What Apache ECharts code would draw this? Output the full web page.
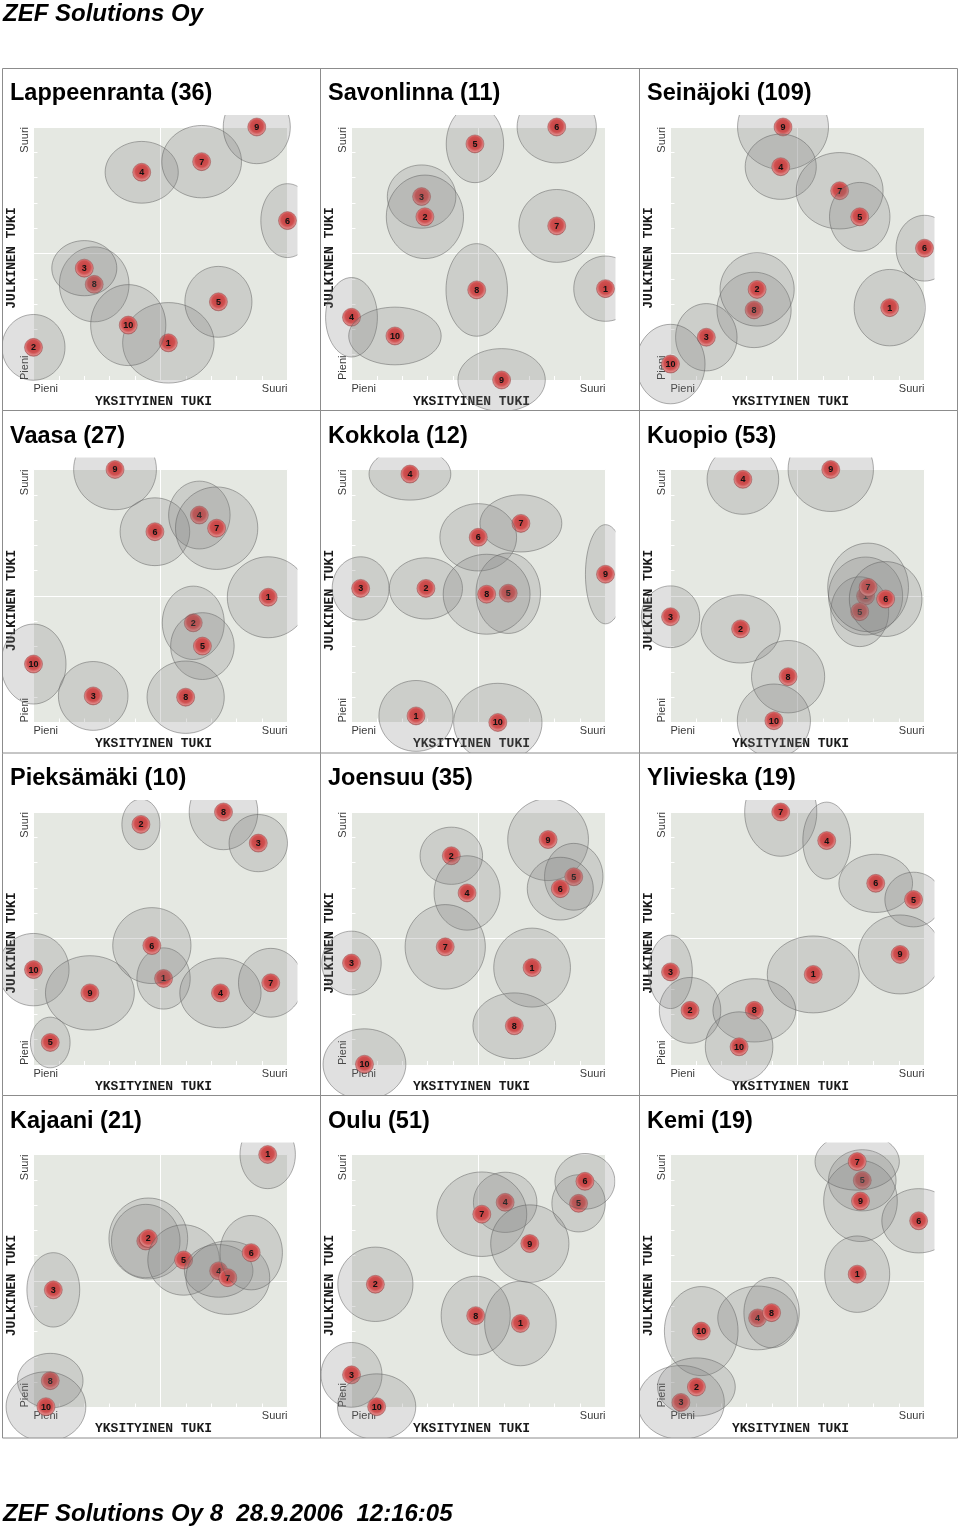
<!DOCTYPE html>
<html><head><meta charset="utf-8">
<script src="https://cdn.jsdelivr.net/npm/echarts@6/dist/echarts.min.js"></script>
<style>html,body{margin:0;padding:0;background:#fff}#c{width:960px;height:1528px}</style>
</head><body><div id="c"></div>
<script>
// ---------------- texts ----------------
const headerText = 'ZEF Solutions Oy';
const footerText = 'ZEF Solutions Oy 8  28.9.2006  12:16:05';
const xAxisTitle = 'YKSITYINEN TUKI';
const yAxisTitle = 'JULKINEN TUKI';
const tickLabels = ['Pieni', 'Suuri'];   // min / max label of both axes
const axisMin = 0, axisMax = 10, axisMid = 5;

const cityTitles = ['Lappeenranta (36)', 'Savonlinna (11)', 'Seinäjoki (109)',
  'Vaasa (27)', 'Kokkola (12)', 'Kuopio (53)',
  'Pieksämäki (10)', 'Joensuu (35)', 'Ylivieska (19)',
  'Kajaani (21)', 'Oulu (51)', 'Kemi (19)'];

// ---------------- data (x, y = centre; rx, ry = spread) in drawing order ----------------
const lappeenrantaIds = [8, 3, 1, 10, 2, 5, 4, 7, 9, 6];
const lappeenrantaX  = [2.39, 2.0, 5.31, 3.73, 0, 7.28, 4.26, 6.62, 8.79, 10];
const lappeenrantaY  = [3.78, 4.42, 1.47, 2.17, 1.29, 3.09, 8.21, 8.63, 10, 6.30];
const lappeenrantaRx = [1.37, 1.28, 1.80, 1.48, 1.24, 1.32, 1.44, 1.57, 1.32, 1.05];
const lappeenrantaRy = [1.48, 1.09, 1.59, 1.60, 1.30, 1.40, 1.22, 1.43, 1.45, 1.46];

const savonlinnaIds = [3, 2, 5, 6, 7, 8, 1, 4, 10, 9];
const savonlinnaX  = [2.76, 2.89, 4.86, 8.08, 8.08, 4.93, 10, 0, 1.71, 5.91];
const savonlinnaY  = [7.25, 6.45, 9.33, 10, 6.09, 3.56, 3.61, 2.48, 1.74, 0];
const savonlinnaRx = [1.35, 1.52, 1.13, 1.56, 1.49, 1.21, 1.25, 1.02, 1.82, 1.72];
const savonlinnaRy = [1.25, 1.65, 1.53, 1.42, 1.44, 1.83, 1.29, 1.57, 1.14, 1.24];

const seinajokiIds = [9, 4, 7, 5, 6, 8, 2, 1, 3, 10];
const seinajokiX  = [4.43, 4.34, 6.66, 7.45, 10, 3.29, 3.41, 8.63, 1.41, 0];
const seinajokiY  = [10, 8.43, 7.48, 6.45, 5.21, 2.77, 3.58, 2.86, 1.69, 0.63];
const seinajokiRx = [1.79, 1.40, 1.71, 1.19, 1.12, 1.46, 1.46, 1.40, 1.21, 1.36];
const seinajokiRy = [1.69, 1.29, 1.51, 1.36, 1.30, 1.49, 1.45, 1.51, 1.33, 1.57];

const vaasaIds = [9, 6, 4, 7, 1, 2, 5, 10, 3, 8];
const vaasaX  = [3.21, 4.78, 6.53, 7.21, 9.24, 6.29, 6.65, 0, 2.35, 5.99];
const vaasaY  = [10, 7.54, 8.20, 7.68, 4.95, 3.94, 3.02, 2.31, 1.05, 1.0];
const vaasaRx = [1.63, 1.37, 1.21, 1.62, 1.61, 1.22, 1.25, 1.28, 1.37, 1.52];
const vaasaRy = [1.59, 1.34, 1.34, 1.63, 1.60, 1.45, 1.32, 1.58, 1.36, 1.43];

const kokkolaIds = [4, 7, 6, 9, 3, 2, 5, 8, 1, 10];
const kokkolaX  = [2.30, 6.67, 4.99, 10, 0.36, 2.93, 6.17, 5.32, 2.54, 5.76];
const kokkolaY  = [9.82, 7.87, 7.32, 5.86, 5.30, 5.30, 5.11, 5.07, 0.26, 0];
const kokkolaRx = [1.61, 1.61, 1.51, 0.79, 1.12, 1.44, 1.27, 1.71, 1.46, 1.74];
const kokkolaRy = [1.03, 1.13, 1.33, 1.96, 1.25, 1.21, 1.59, 1.58, 1.40, 1.55];

const kuopioIds = [4, 9, 3, 2, 8, 10, 1, 5, 7, 6];
const kuopioX  = [2.85, 6.31, 0, 2.76, 4.63, 4.07, 7.68, 7.45, 7.78, 8.47];
const kuopioY  = [9.61, 10, 4.18, 3.70, 1.81, 0.07, 5.0, 4.38, 5.34, 4.88];
const kuopioRx = [1.41, 1.68, 1.15, 1.56, 1.44, 1.44, 1.46, 1.14, 1.59, 1.43];
const kuopioRy = [1.38, 1.66, 1.22, 1.35, 1.43, 1.45, 1.54, 1.38, 1.75, 1.48];

const pieksamakiIds = [2, 8, 3, 1, 6, 10, 9, 4, 7, 5];
const pieksamakiX  = [4.23, 7.48, 8.85, 5.12, 4.66, 0, 2.22, 7.36, 9.34, 0.66];
const pieksamakiY  = [9.51, 10, 8.77, 3.42, 4.72, 3.77, 2.85, 2.85, 3.25, 0.89];
const pieksamakiRx = [0.75, 1.35, 1.15, 1.05, 1.54, 1.40, 1.75, 1.60, 1.27, 0.78];
const pieksamakiRy = [1.00, 1.49, 1.13, 1.21, 1.50, 1.43, 1.47, 1.38, 1.36, 1.00];

const joensuuIds = [9, 5, 6, 2, 4, 7, 3, 1, 8, 10];
const joensuuX  = [7.74, 8.75, 8.22, 3.93, 4.55, 3.69, 0, 7.11, 6.41, 0.51];
const joensuuY  = [8.91, 7.44, 6.97, 8.27, 6.80, 4.67, 4.03, 3.85, 1.55, 0.03];
const joensuuRx = [1.59, 1.15, 1.30, 1.23, 1.30, 1.58, 1.17, 1.51, 1.63, 1.63];
const joensuuRy = [1.62, 1.32, 1.24, 1.13, 1.47, 1.67, 1.26, 1.56, 1.30, 1.40];

const ylivieskaIds = [7, 4, 6, 5, 9, 1, 3, 2, 8, 10];
const ylivieskaX  = [4.34, 6.15, 8.08, 9.57, 9.04, 5.62, 0, 0.77, 3.30, 2.70];
const ylivieskaY  = [10, 8.87, 7.18, 6.54, 4.37, 3.58, 3.68, 2.16, 2.16, 0.72];
const ylivieskaRx = [1.42, 0.94, 1.45, 1.13, 1.64, 1.81, 0.86, 1.21, 1.63, 1.33];
const ylivieskaRy = [1.75, 1.52, 1.15, 1.08, 1.56, 1.52, 1.45, 1.30, 1.25, 1.38];

const kajaaniIds = [9, 2, 5, 4, 7, 6, 3, 8, 10, 1];
const kajaaniX  = [4.42, 4.52, 5.91, 7.29, 7.65, 8.57, 0.78, 0.66, 0.49, 9.22];
const kajaaniY  = [6.58, 6.68, 5.83, 5.40, 5.13, 6.12, 4.65, 1.06, 0.03, 10];
const kajaaniRx = [1.35, 1.55, 1.41, 1.35, 1.65, 1.23, 1.04, 1.29, 1.57, 1.09];
const kajaaniRy = [1.45, 1.60, 1.39, 1.04, 1.45, 1.47, 1.47, 1.08, 1.38, 1.35];

const ouluIds = [4, 7, 9, 5, 6, 2, 8, 1, 3, 10];
const ouluX  = [6.05, 5.13, 7.02, 8.94, 9.19, 0.94, 4.89, 6.65, 0, 0.99];
const ouluY  = [8.11, 7.64, 6.48, 8.07, 8.94, 4.87, 3.63, 3.32, 1.29, 0.03];
const ouluRx = [1.25, 1.77, 1.54, 1.05, 1.18, 1.48, 1.36, 1.41, 1.20, 1.54];
const ouluRy = [1.19, 1.67, 1.53, 1.13, 1.10, 1.47, 1.56, 1.67, 1.28, 1.30];

const kemiIds = [5, 9, 7, 6, 1, 4, 8, 10, 3, 2];
const kemiX  = [7.55, 7.48, 7.35, 9.77, 7.35, 3.43, 3.98, 1.21, 0.41, 1.02];
const kemiY  = [8.98, 8.16, 9.72, 7.38, 5.27, 3.54, 3.75, 3.02, 0.20, 0.81];
const kemiRx = [1.33, 1.45, 1.66, 1.45, 1.28, 1.57, 1.09, 1.45, 1.71, 1.53];
const kemiRy = [1.21, 1.60, 1.13, 1.27, 1.51, 1.26, 1.39, 1.76, 1.46, 1.15];

const panelData = [
  [lappeenrantaIds, lappeenrantaX, lappeenrantaY, lappeenrantaRx, lappeenrantaRy],
  [savonlinnaIds, savonlinnaX, savonlinnaY, savonlinnaRx, savonlinnaRy],
  [seinajokiIds, seinajokiX, seinajokiY, seinajokiRx, seinajokiRy],
  [vaasaIds, vaasaX, vaasaY, vaasaRx, vaasaRy],
  [kokkolaIds, kokkolaX, kokkolaY, kokkolaRx, kokkolaRy],
  [kuopioIds, kuopioX, kuopioY, kuopioRx, kuopioRy],
  [pieksamakiIds, pieksamakiX, pieksamakiY, pieksamakiRx, pieksamakiRy],
  [joensuuIds, joensuuX, joensuuY, joensuuRx, joensuuRy],
  [ylivieskaIds, ylivieskaX, ylivieskaY, ylivieskaRx, ylivieskaRy],
  [kajaaniIds, kajaaniX, kajaaniY, kajaaniRx, kajaaniRy],
  [ouluIds, ouluX, ouluY, ouluRx, ouluRy],
  [kemiIds, kemiX, kemiY, kemiRx, kemiRy]
];

// ---------------- layout ----------------
const COL_X = [2, 320, 639];
const COL_W = [318, 319, 319];
const ROW_Y = [68, 410.5, 753, 1095.5];
const ROW_H = 342.5;
const PLOT_DX = 31.5, PLOT_DY = 59, PLOT_W = 254, PLOT_H = 253;
const CLIP_TOP = 12, CLIP_RIGHT = 10;

const BG = '#e5e8e2';
const SANS = '"Liberation Sans", Arial, Helvetica, sans-serif';
const MONO = '"Liberation Mono", "Courier New", monospace';

const chart = echarts.init(document.getElementById('c'), null, {renderer: 'canvas'});

const dotFill = new echarts.graphic.RadialGradient(0.5, 0.45, 0.55, [
  {offset: 0, color: '#c33f3f'},
  {offset: 0.6, color: '#cf4f4f'},
  {offset: 0.84, color: '#de8585'},
  {offset: 1, color: '#b65a5a'}
]);

const grids = [], xAxes = [], yAxes = [], series = [], graphics = [];

function tickFormatter(v) {
  if (v === axisMin) return tickLabels[0];
  if (v === axisMax) return tickLabels[1];
  return '';
}

panelData.forEach((pd, i) => {
  const c = i % 3, r = Math.floor(i / 3);
  const x0 = COL_X[c], y0 = ROW_Y[r];
  const left = x0 + PLOT_DX, top = y0 + PLOT_DY;
  grids.push({left: left, top: top, width: PLOT_W, height: PLOT_H,
    show: true, backgroundColor: BG, borderWidth: 0, containLabel: false});
  const common = {
    gridIndex: i, type: 'value', min: axisMin, max: axisMax, interval: axisMid,
    axisLine: {show: false},
    axisTick: {show: true, inside: true, length: 4, lineStyle: {color: '#ffffff', width: 1}},
    minorTick: {show: true, splitNumber: 5, length: 4, lineStyle: {color: '#ffffff', width: 1}},
    splitLine: {show: true, lineStyle: {color: '#ffffff', width: 1}},
    nameLocation: 'middle',
    nameTextStyle: {fontFamily: MONO, fontWeight: 'bold', fontSize: 13, color: '#1a1a1a'}
  };
  xAxes.push(Object.assign({}, common, {
    name: xAxisTitle, nameGap: 15,
    nameTextStyle: Object.assign({}, common.nameTextStyle, {padding: [0, 14, 0, 0]}),
    axisLabel: {formatter: tickFormatter, fontFamily: SANS, fontSize: 11, color: '#3a3a3a', margin: 3,
      showMinLabel: true, showMaxLabel: true, alignMinLabel: 'left', alignMaxLabel: 'right'}
  }));
  yAxes.push(Object.assign({}, common, {
    name: yAxisTitle, nameGap: 14,
    nameTextStyle: Object.assign({}, common.nameTextStyle, {padding: [0, 9, 0, 0]}),
    axisLabel: {formatter: tickFormatter, fontFamily: SANS, fontSize: 11, color: '#3a3a3a', margin: 3, rotate: 90,
      showMinLabel: true, showMaxLabel: true, alignMinLabel: 'left', alignMaxLabel: 'right'}
  }));

  const [ids, xs, ys, rxs, rys] = pd;
  series.push({
    type: 'custom', name: cityTitles[i], xAxisIndex: i, yAxisIndex: i,
    clip: false, silent: true, z: 2,
    data: ids.map((id, k) => [xs[k], ys[k], rxs[k], rys[k], id]),
    renderItem: function (params, api) {
      const p = api.coord([api.value(0), api.value(1)]);
      const s = api.size([api.value(2), api.value(3)]);
      return {
        type: 'group',
        children: [
          {type: 'ellipse', shape: {cx: p[0], cy: p[1], rx: s[0], ry: s[1]},
            style: {fill: 'rgba(125,125,125,0.24)', stroke: 'rgba(95,95,95,0.5)', lineWidth: 1}},
          {type: 'circle', shape: {cx: p[0], cy: p[1], r: 9},
            style: {fill: dotFill, stroke: 'rgba(140,60,60,0.7)', lineWidth: 0.6}},
          {type: 'text', x: p[0], y: p[1] + 0.5,
            style: {text: String(api.value(4)), fill: '#111', font: 'bold 9px ' + SANS,
              align: 'center', verticalAlign: 'middle', textAlign: 'center', textVerticalAlign: 'middle'}}
        ]
      };
    }
  });

  // white clip strips (top and right of each panel)
  const plotRight = left + PLOT_W;
  graphics.push({type: 'rect', z: 10, silent: true,
    shape: {x: x0, y: y0, width: COL_W[c], height: PLOT_DY - CLIP_TOP}, style: {fill: '#fff'}});
  graphics.push({type: 'rect', z: 10, silent: true,
    shape: {x: plotRight + CLIP_RIGHT, y: y0, width: x0 + COL_W[c] - plotRight - CLIP_RIGHT, height: ROW_H},
    style: {fill: '#fff'}});
  // panel title
  graphics.push({type: 'text', z: 20, silent: true, x: x0 + 8, y: y0 + 26,
    style: {text: cityTitles[i], fill: '#000', font: 'bold 23.5px ' + SANS,
      align: 'left', verticalAlign: 'middle', textAlign: 'left', textVerticalAlign: 'middle'}});
});

// outer clipping margins
graphics.push({type: 'rect', z: 10, silent: true, shape: {x: 0, y: 60, width: 2, height: 1400}, style: {fill: '#fff'}});
graphics.push({type: 'rect', z: 10, silent: true, shape: {x: 958, y: 60, width: 2, height: 1400}, style: {fill: '#fff'}});
graphics.push({type: 'rect', z: 10, silent: true, shape: {x: 0, y: 1438, width: 960, height: 90}, style: {fill: '#fff'}});

// panel borders
const B = '#8c8c8c';
const bottomY = ROW_Y[3] + ROW_H;
graphics.push({type: 'rect', z: 15, silent: true, shape: {x: 2.5, y: 68.5, width: 955, height: bottomY - 68.5},
  style: {fill: 'none', stroke: B, lineWidth: 1}});
[320.5, 639.5].forEach(xv => graphics.push({type: 'line', z: 15, silent: true,
  shape: {x1: xv, y1: 68.5, x2: xv, y2: bottomY}, style: {stroke: B, lineWidth: 1}}));
[410.5, 753, 1095.5].forEach(yv => graphics.push({type: 'line', z: 15, silent: true,
  shape: {x1: 2.5, y1: yv, x2: 957.5, y2: yv}, style: {stroke: B, lineWidth: 1}}));

// header / footer
graphics.push({type: 'text', z: 20, silent: true, x: 3, y: 14,
  style: {text: headerText, fill: '#000', font: 'italic bold 24px ' + SANS,
    align: 'left', verticalAlign: 'middle', textAlign: 'left', textVerticalAlign: 'middle'}});
graphics.push({type: 'text', z: 20, silent: true, x: 3, y: 1514,
  style: {text: footerText, fill: '#000', font: 'italic bold 24px ' + SANS,
    align: 'left', verticalAlign: 'middle', textAlign: 'left', textVerticalAlign: 'middle'}});

chart.setOption({
  animation: false,
  backgroundColor: '#ffffff',
  grid: grids,
  xAxis: xAxes,
  yAxis: yAxes,
  series: series,
  graphic: graphics
});
</script>
</body></html>
